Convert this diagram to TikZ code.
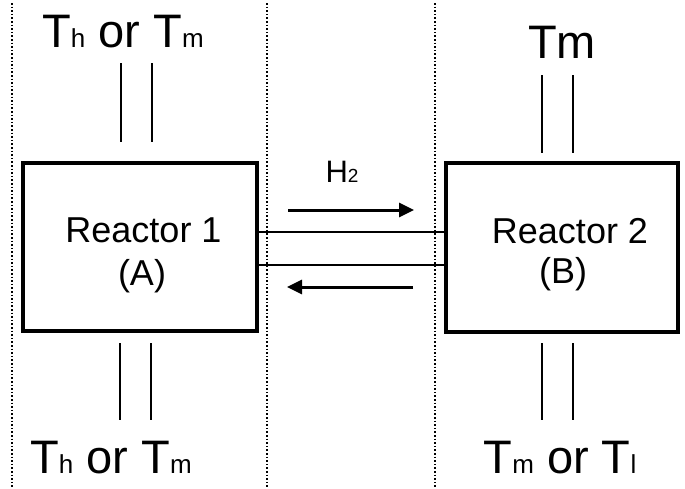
\documentclass[tikz,border=0pt]{standalone}
\usepackage{fontspec}
\setmainfont{Liberation Sans}
\usetikzlibrary{arrows.meta}
\newcommand{\bigT}{\fontsize{47}{50}\selectfont}
\newcommand{\smallsub}[1]{{\fontsize{26}{28}\selectfont #1}}
\tikzset{
  divider/.style={line width=2pt, dash pattern=on 1.6pt off 2pt},
  reactor/.style={draw, line width=3.2pt, inner sep=0pt},
  rtext/.style={font=\fontsize{36}{40}\selectfont, anchor=base, inner sep=0pt},
  tlabel/.style={font=\bigT, anchor=base, inner sep=0pt},
  pipe/.style={line width=2pt},
  hpipe/.style={line width=2.6pt},
  flow/.style={line width=3pt, -{Triangle[length=15pt,width=14pt]}}
}
\begin{document}
\begin{tikzpicture}[x=1pt,y=-1pt]
\useasboundingbox (0,0) rectangle (685,488);
% dotted dividers
\coordinate (d1t) at (12,3); \coordinate (d1b) at (12,488);
\coordinate (d2t) at (267,3); \coordinate (d2b) at (267,488);
\coordinate (d3t) at (435,3); \coordinate (d3b) at (435,488);
\draw[divider] (d1t) -- (d1b);
\draw[divider] (d2t) -- (d2b);
\draw[divider] (d3t) -- (d3b);
% reactors
\node[reactor, minimum width=234pt, minimum height=168pt] (box1) at (140,247) {};
\node[reactor, minimum width=232pt, minimum height=169pt] (box2) at (562,247.5) {};
\node[rtext] (r1) at (143.5,242) {Reactor 1};
\node[rtext] (a1) at (142,285) {(A)};
\node[rtext] (r2) at (570,243) {Reactor 2};
\node[rtext] (b2) at (563,283) {(B)};
% horizontal pipes
\draw[hpipe] (box1.east |- 0,232) -- (box2.west |- 0,232);
\draw[hpipe] (box1.east |- 0,265) -- (box2.west |- 0,265);
% flow arrows
\coordinate (f1s) at (288,210); \coordinate (f1e) at (414,210);
\coordinate (f2s) at (413,287); \coordinate (f2e) at (287,287);
\draw[flow] (f1s) -- (f1e);
\draw[flow] (f2s) -- (f2e);
\node[anchor=base, inner sep=0pt, font=\fontsize{31}{34}\selectfont] (h2) at (342,182) {H{\fontsize{19}{20}\selectfont 2}};
% vertical pipes
\coordinate (lt1a) at (121,63);  \coordinate (lt1b) at (121,142);
\coordinate (lt2a) at (152,63);  \coordinate (lt2b) at (152,142);
\coordinate (lb1a) at (120,343); \coordinate (lb1b) at (120,420);
\coordinate (lb2a) at (151,343); \coordinate (lb2b) at (151,420);
\coordinate (rt1a) at (542,75);  \coordinate (rt1b) at (542,153);
\coordinate (rt2a) at (573,75);  \coordinate (rt2b) at (573,153);
\coordinate (rb1a) at (542,343); \coordinate (rb1b) at (542,420);
\coordinate (rb2a) at (573,343); \coordinate (rb2b) at (573,420);
\draw[pipe] (lt1a) -- (lt1b);
\draw[pipe] (lt2a) -- (lt2b);
\draw[pipe] (lb1a) -- (lb1b);
\draw[pipe] (lb2a) -- (lb2b);
\draw[pipe] (rt1a) -- (rt1b);
\draw[pipe] (rt2a) -- (rt2b);
\draw[pipe] (rb1a) -- (rb1b);
\draw[pipe] (rb2a) -- (rb2b);
% temperature labels
\node[tlabel] (t1) at (123,47) {T\smallsub{h} or T\smallsub{m}};
\node[tlabel] (t2) at (111,473) {T\smallsub{h} or T\smallsub{m}};
\node[tlabel] (t3) at (562,58) {Tm};
\node[tlabel] (t4) at (560,473) {T\smallsub{m} or T\smallsub{l}};
\end{tikzpicture}
\end{document}
